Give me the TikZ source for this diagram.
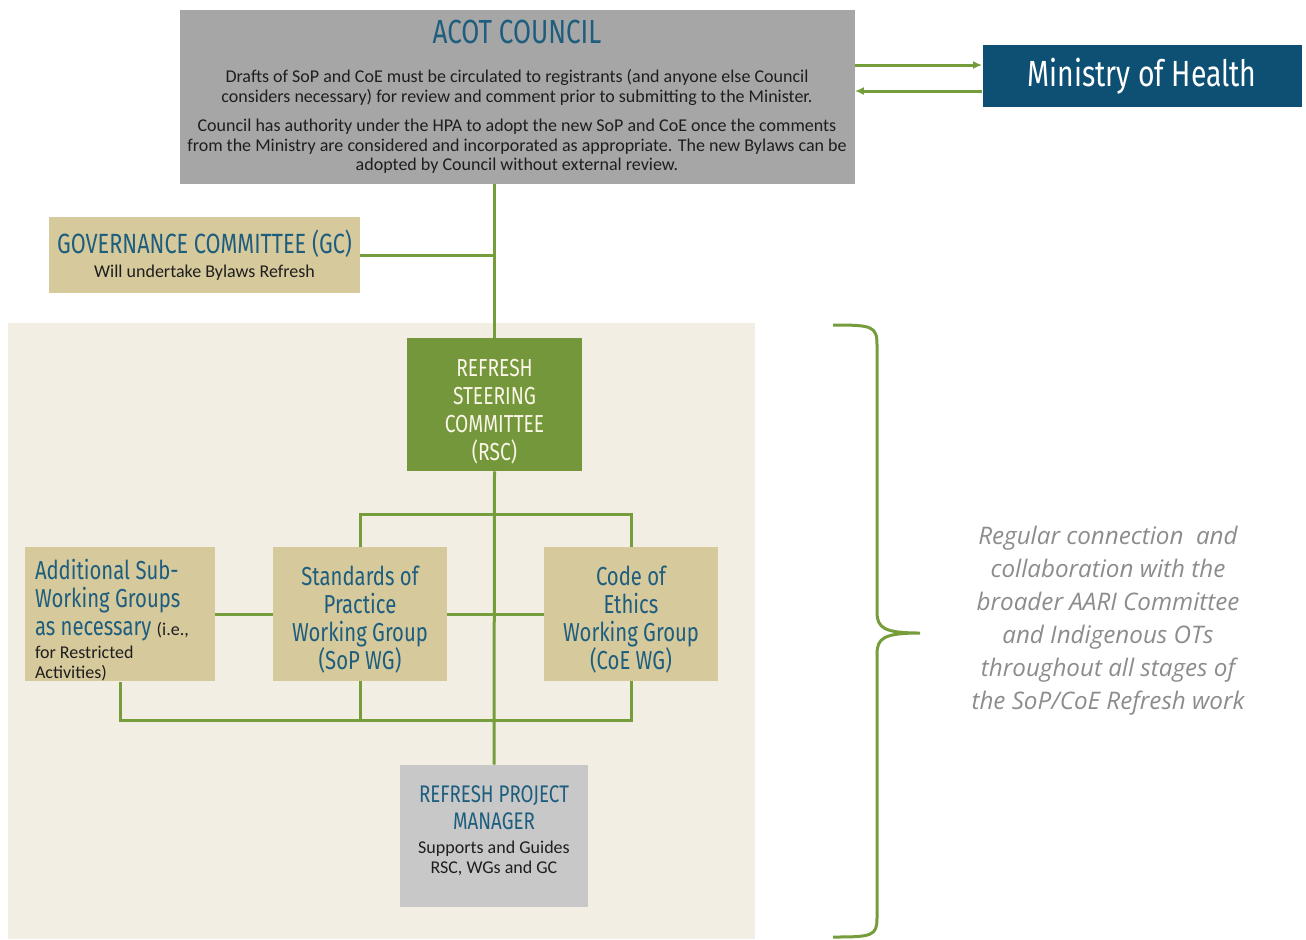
\documentclass[tikz,border=0pt]{standalone}
\usepackage{fontspec}
\usepackage{tikz}
\usetikzlibrary{arrows.meta,positioning}
\setmainfont{Carlito}
\newfontfamily\dispfont[FakeStretch=0.78]{Fira Sans}
\newfontfamily\notefont{Open Sans}
\definecolor{acotgray}{RGB}{166,166,166}
\definecolor{teal1}{RGB}{29,93,126}
\definecolor{mohblue}{RGB}{14,79,116}
\definecolor{linkgreen}{RGB}{118,157,60}
\definecolor{rscgreen}{RGB}{117,151,59}
\definecolor{rsctext}{RGB}{250,246,232}
\definecolor{tan1}{RGB}{214,201,156}
\definecolor{panel}{RGB}{242,238,227}
\definecolor{pmgray}{RGB}{200,200,200}
\definecolor{notegray}{RGB}{140,140,140}
\definecolor{bodyblack}{RGB}{30,30,30}
\lineskiplimit=-100pt
\newcommand\hdfont{\dispfont\color{teal1}}
\newcommand\bodytxt{\normalfont\fontsize{9}{10}\selectfont\color{bodyblack}}
% taller first line pushes a block down a little
\newcommand\topstrut[1]{\rule{0pt}{#1}}
\tikzset{
  box/.style={inner sep=0pt,align=center},
  link/.style={linkgreen,line width=1.5pt},
  flow/.style={link,-{Latex[length=4.5pt,width=4pt]}},
  wgbox/.style={box,fill=tan1,minimum width=87pt,minimum height=67pt,
    text=teal1,font=\dispfont\fontsize{13}{14}\selectfont},
}

\begin{document}
\begin{tikzpicture}[x=0.5pt,y=-0.5pt]
\useasboundingbox (0,0) rectangle (1306,939);
% panel behind the refresh group
\fill[panel] (8,323) rectangle (755,939);

\node[box,fill=acotgray,minimum width=337.5pt,minimum height=87pt,
  text=bodyblack,font=\fontsize{9}{9.8}\selectfont] (council) at (517,97)
  {{\hdfont\fontsize{16.7}{18}\selectfont ACOT COUNCIL}\\[9.7pt]
   Drafts of SoP and CoE must be circulated to registrants (and anyone else Council\\
   considers necessary) for review and comment prior to submitting to the Minister.\\[4.7pt]
   Council has authority under the HPA to adopt the new SoP and CoE once the comments\\
   from the Ministry are considered and incorporated as appropriate. The new Bylaws can be\\
   adopted by Council without external review.};
\node[box,fill=mohblue,minimum width=159.5pt,minimum height=31pt,text=white,
  font=\dispfont\fontsize{18.2}{19}\selectfont] (ministry) at (1142,76) {Ministry of Health};

\node[box,fill=tan1,minimum width=155.5pt,minimum height=38pt,text=bodyblack,
  font=\fontsize{9}{10}\selectfont] (gc) at (204.5,255)
  {{\hdfont\fontsize{13.9}{15}\selectfont GOVERNANCE COMMITTEE (GC)}\\[2pt]
   Will undertake Bylaws Refresh};

\node[box,fill=rscgreen,minimum width=87.5pt,minimum height=66.5pt,text=rsctext,
  font=\dispfont\fontsize{12.3}{14}\selectfont] (rsc) at (494.5,404.5)
  {\topstrut{15.5pt}REFRESH\\STEERING\\COMMITTEE\\(RSC)};

\node[wgbox,align=flush left,text width=85pt,inner xsep=5pt,minimum width=95pt] (add) at (120,614)
  {\topstrut{16.5pt}Additional Sub-\\Working Groups\\as necessary {\bodytxt (i.e.,}\\[-2.5pt]
   {\bodytxt for Restricted}\\[-4pt]{\bodytxt Activities)}};
\node[wgbox] (sop) at (360,614) {\topstrut{15.8pt}Standards of\\Practice\\Working Group\\(SoP WG)};
\node[wgbox] (coe) at (631,614) {\topstrut{15.8pt}Code of\\Ethics\\Working Group\\(CoE WG)};

\node[box,fill=pmgray,minimum width=94pt,minimum height=71pt,text=bodyblack,
  font=\fontsize{9}{10}\selectfont] (pm) at (494,836)
  {{\hdfont\fontsize{12}{13}\selectfont REFRESH PROJECT}\\[3.5pt]
   {\hdfont\fontsize{12}{13}\selectfont MANAGER}\\[2pt]
   Supports and Guides\\RSC, WGs and GC\rule[-6pt]{0pt}{6pt}};

\node[box,text=notegray,font=\notefont\itshape\fontsize{12.1}{16.5}\selectfont] (note) at (1108,621)
  {Regular connection\ \ and\\collaboration with the\\broader AARI Committee\\
   and Indigenous OTs\\throughout all stages of\\the SoP/CoE Refresh work};

% council <-> ministry
\coordinate (mto) at ([yshift=5.5pt]ministry.west);
\coordinate (mfrom) at ([yshift=-7.5pt]ministry.west);
\draw[flow] (council.east |- mto) -- (mto);
\draw[flow] (mfrom) -- (council.east |- mfrom);

% main trunk
\draw[link] (council.south -| rsc.north) -- (rsc.north);
\draw[link] (gc.east) -- (gc.east -| rsc.north);
\draw[link] (rsc.south) -- (pm.north);

% working groups
\draw[link] (sop.north) -- ++(0,-32) -| (coe.north);
\draw[link] (add.east) -- (sop.west);
\draw[link] (sop.east) -- (coe.west);
\draw[link] (add.south) -- ++(0,39) -| (coe.south);
\draw[link] (sop.south) -- ++(0,39);

% brace
\draw[link] (833,325) .. controls (872,325) and (877,326) .. (877,345) -- (877,612)
  .. controls (877,628) and (884,633) .. (920,633)
  .. controls (884,633) and (877,638) .. (877,654) -- (877,918)
  .. controls (877,936) and (872,937) .. (833,937);
\end{tikzpicture}
\end{document}
